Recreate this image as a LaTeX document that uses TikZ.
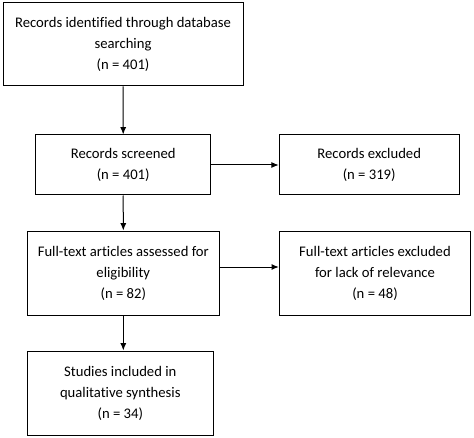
\documentclass[tikz,border=0pt]{standalone}
\usepackage{fontspec}
\setmainfont{Carlito}[Ligatures={NoCommon}]
\usetikzlibrary{arrows.meta}
\begin{document}
\begin{tikzpicture}[x=0.75pt,y=-0.75pt,
  box/.style={draw, line width=0.75pt, align=center, inner sep=0pt,
    font=\fontsize{11}{15.75}\selectfont},
  arr/.style={line width=0.75pt, -{Latex[length=5.5pt,width=4.5pt]}}]
\useasboundingbox (0,0) rectangle (474,438);
\node[box, minimum width=180pt, minimum height=62.25pt] (b1) at (123,44.5)
  {Records identified through database\\searching\\(n = 401)};
\node[box, minimum width=131.25pt, minimum height=45pt] (b2) at (123.2,165)
  {Records screened\\(n = 401)};
\node[box, minimum width=135pt, minimum height=45pt] (b3) at (369.2,165)
  {Records excluded\\(n = 319)};
\node[box, minimum width=144pt, minimum height=63pt] (b4) at (123.3,273)
  {Full-text articles assessed for\\eligibility\\(n = 82)};
\node[box, minimum width=143.5pt, minimum height=63pt] (b5) at (375,273.8)
  {Full-text articles excluded\\for lack of relevance\\(n = 48)};
\node[box, minimum width=139.5pt, minimum height=63pt] (b6) at (120.3,393)
  {Studies included in\\qualitative synthesis\\(n = 34)};
\draw[arr] (b1.south) -- (b2.north);
\draw[arr] (b2.east) -- (b3.west);
\draw[arr] (b2.south) -- (b4.north);
\draw[arr] (b4.east |- 0,267) -- (b5.west |- 0,267);
\draw[arr] (b4.south) -- (b4.south |- b6.north);
\end{tikzpicture}
\end{document}
